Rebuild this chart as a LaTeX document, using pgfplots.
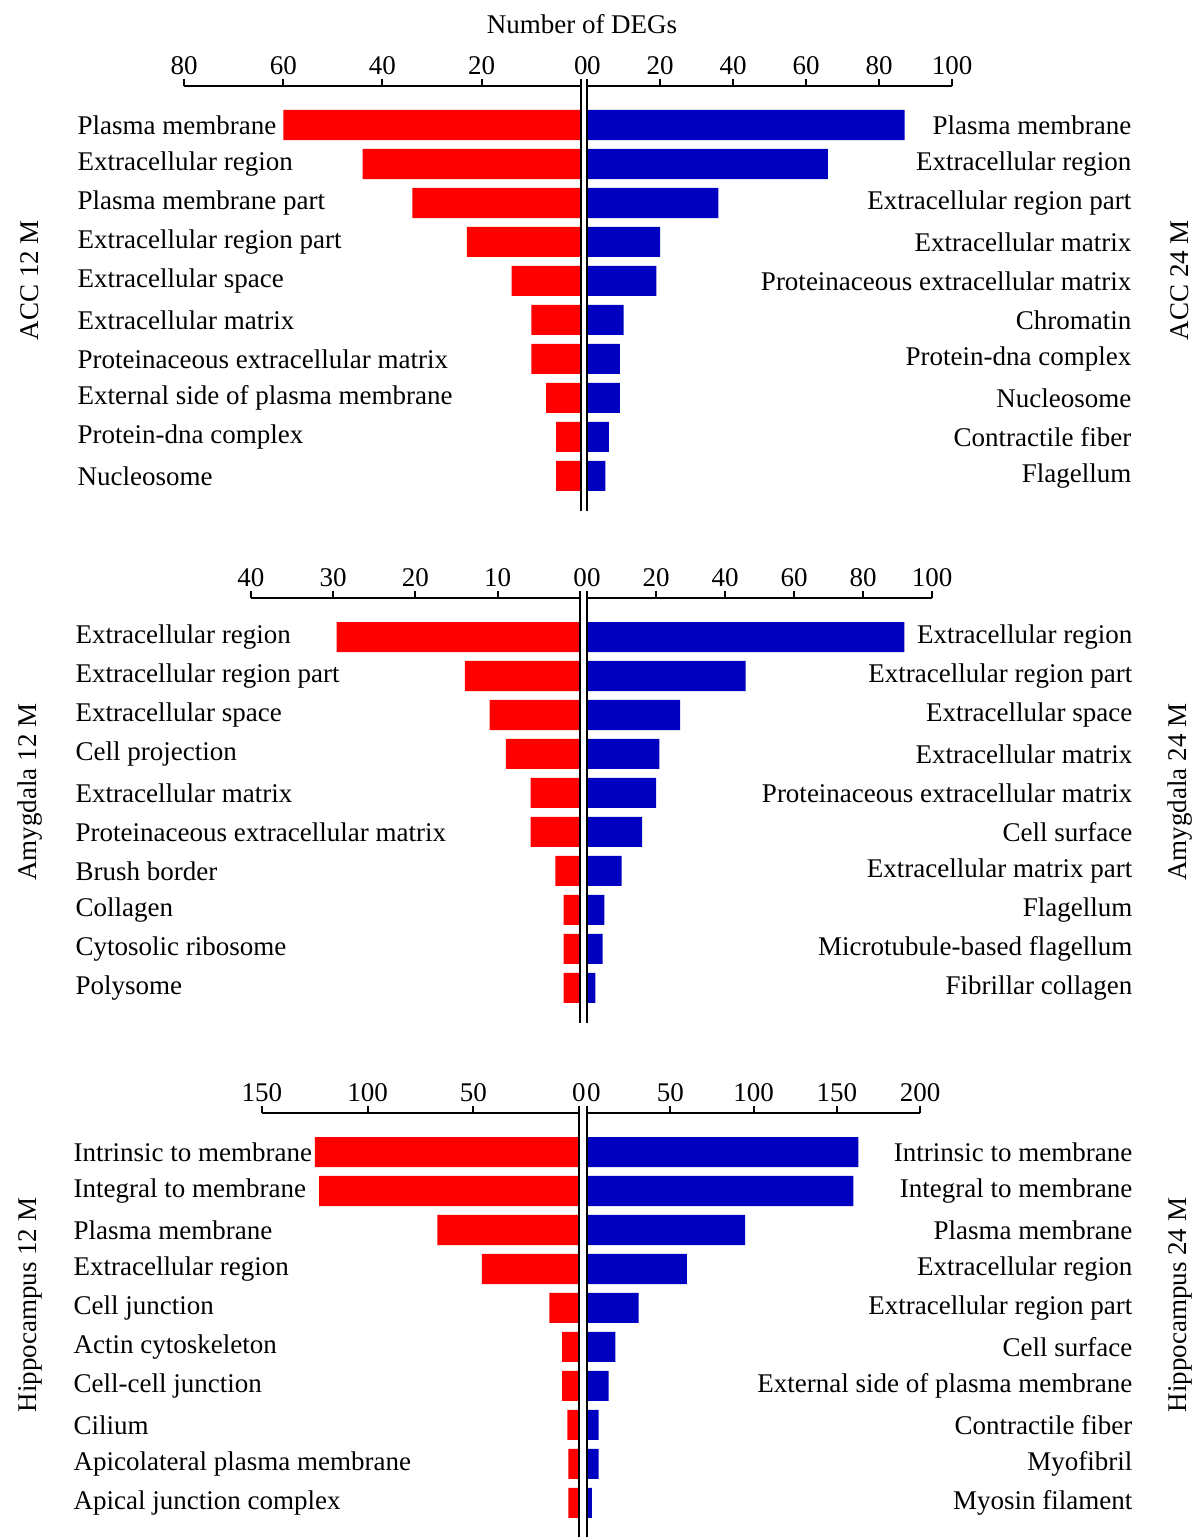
\documentclass[border=0pt]{standalone}
\usepackage{pgfplots}
\pgfplotsset{compat=1.18}
\usepackage{fontspec}
\setmainfont{Liberation Serif}
\definecolor{barred}{RGB}{255,0,0}
\definecolor{barblue}{RGB}{0,0,192}
\pgfplotsset{
  panel/.style={
    scale only axis, height=127.5pt, anchor=center,
    ymin=0, ymax=10.9, y dir=reverse,
    ytick={1,...,10},
    enlargelimits=false,
    xbar, bar width=0.77,
    axis x line*=top,
    axis line style={-, line width=0.6pt},
    y axis line style={draw=none},
    tick align=outside,
    major tick length=2.1pt,
    every tick/.style={black, line width=0.6pt},
    ytick style={draw=none},
    font=\fontsize{8.1}{9.7}\selectfont,
    /pgf/number format/assume math mode=true,
    xticklabel style={inner sep=1pt},
    clip=false,
  },
  leftpanel/.style={panel, x dir=reverse, xmin=0,
    axis y line*=left,
    yticklabel style={anchor=west, inner xsep=0pt, xshift=#1}},
  rightpanel/.style={panel, xmin=0,
    axis y line*=right,
    yticklabel style={anchor=east, inner xsep=0pt, xshift=#1}},
}
\newcommand{\zeroline}{\draw[black, line width=0.6pt] (axis cs:0,0) -- (axis cs:0,10.9);}
\newcommand{\rz}{\makebox[0pt][l]{0}}
\begin{document}
\begin{tikzpicture}
\path[use as bounding box] (0,0) rectangle (358.8pt,-461.1pt);
\node[font=\fontsize{8.1}{9.7}\selectfont] at (174.6pt,-7.2pt) {Number of DEGs};
% ---------------- ACC ----------------
\begin{axis}[leftpanel=-30pt, at={(114.75pt,-89.55pt)}, width=119.1pt,
  xmax=80, xtick={0,20,...,80},
  yticklabels={Plasma membrane, Extracellular region, Plasma membrane part, Extracellular region part, Extracellular space, Extracellular matrix, Proteinaceous extracellular matrix, External side of plasma membrane, Protein-dna complex, Nucleosome}]
\addplot[fill=barred, draw=none] coordinates {(60,1) (44,2) (34,3) (23,4) (14,5) (10,6) (10,7) (7,8) (5,9) (5,10)};
\zeroline
\end{axis}
\begin{axis}[rightpanel=51.9pt, at={(230.85pt,-89.55pt)}, width=109.5pt,
  xmax=100, xtick={0,20,...,100}, xticklabels={\rz,20,40,60,80,100},
  yticklabels={Plasma membrane, Extracellular region, Extracellular region part, Extracellular matrix, Proteinaceous extracellular matrix, Chromatin, Protein-dna complex, Nucleosome, Contractile fiber, Flagellum}]
\addplot[fill=barblue, draw=none] coordinates {(87,1) (66,2) (36,3) (20,4) (19,5) (10,6) (9,7) (9,8) (6,9) (5,10)};
\zeroline
\end{axis}
% ---------------- Amygdala ----------------
\begin{axis}[leftpanel=-50.7pt, at={(124.65pt,-243.15pt)}, width=98.7pt,
  xmax=40, xtick={0,10,...,40},
  yticklabels={Extracellular region, Extracellular region part, Extracellular space, Cell projection, Extracellular matrix, Proteinaceous extracellular matrix, Brush border, Collagen, Cytosolic ribosome, Polysome}]
\addplot[fill=barred, draw=none] coordinates {(29.6,1) (14,2) (11,3) (9,4) (6,5) (6,6) (3,7) (2,8) (2,9) (2,10)};
\zeroline
\end{axis}
\begin{axis}[rightpanel=58.2pt, at={(227.85pt,-243.15pt)}, width=103.5pt,
  xmax=100, xtick={0,20,...,100}, xticklabels={\rz,20,40,60,80,100},
  yticklabels={Extracellular region, Extracellular region part, Extracellular space, Extracellular matrix, Proteinaceous extracellular matrix, Cell surface, Extracellular matrix part, Flagellum, Microtubule-based flagellum, Fibrillar collagen}]
\addplot[fill=barblue, draw=none] coordinates {(92,1) (46,2) (27,3) (21,4) (20,5) (16,6) (10,7) (5,8) (4.5,9) (2.4,10)};
\zeroline
\end{axis}
% ---------------- Hippocampus ----------------
\begin{axis}[leftpanel=-54.6pt, at={(126.15pt,-397.65pt)}, width=95.1pt,
  xmax=150, xtick={0,50,...,150},
  yticklabels={Intrinsic to membrane, Integral to membrane, Plasma membrane, Extracellular region, Cell junction, Actin cytoskeleton, Cell-cell junction, Cilium, Apicolateral plasma membrane, Apical junction complex}]
\addplot[fill=barred, draw=none] coordinates {(125,1) (123,2) (67,3) (46,4) (14,5) (8,6) (8,7) (5.5,8) (5,9) (5,10)};
\zeroline
\end{axis}
\begin{axis}[rightpanel=61.8pt, at={(226.05pt,-397.65pt)}, width=99.9pt,
  xmax=200, xtick={0,50,...,200}, xticklabels={\rz,50,100,150,200},
  yticklabels={Intrinsic to membrane, Integral to membrane, Plasma membrane, Extracellular region, Extracellular region part, Cell surface, External side of plasma membrane, Contractile fiber, Myofibril, Myosin filament}]
\addplot[fill=barblue, draw=none] coordinates {(163,1) (160,2) (95,3) (60,4) (31,5) (17,6) (13,7) (7,8) (7,9) (3,10)};
\zeroline
\end{axis}
% side labels
\begin{scope}[every node/.style={rotate=90, font=\fontsize{8.1}{9.7}\selectfont}]
\node at (9pt,-84pt) {ACC 12 M};
\node at (354pt,-84pt) {ACC 24 M};
\node at (9pt,-237.6pt) {Amygdala 12 M};
\node at (354pt,-237.6pt) {Amygdala 24 M};
\node at (9pt,-391.5pt) {Hippocampus 12 M};
\node at (354pt,-391.5pt) {Hippocampus 24 M};
\end{scope}
\end{tikzpicture}
\end{document}
